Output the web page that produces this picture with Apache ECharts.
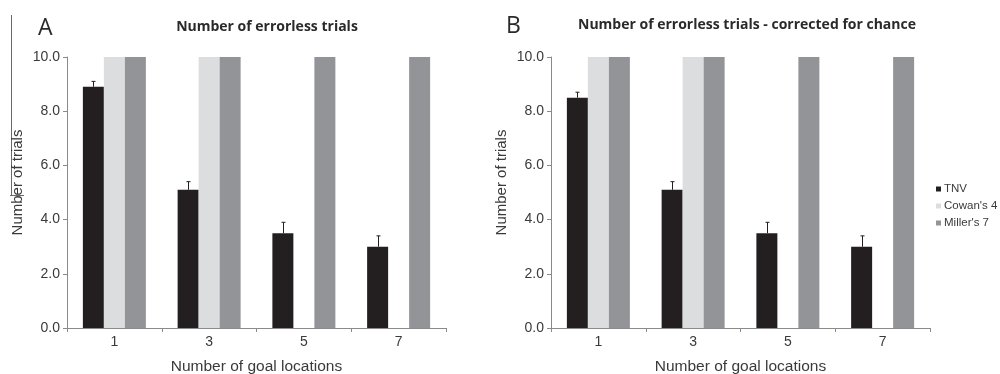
<!DOCTYPE html>
<html>
<head>
<meta charset="utf-8">
<script src="https://cdn.jsdelivr.net/npm/echarts@6/dist/echarts.min.js"></script>
<style>
  html, body { margin: 0; padding: 0; background: #fff; }
  #chart { width: 1000px; height: 374px; }
</style>
</head>
<body>
<div id="chart"></div>
<script>
// Goal-location counts on the x axis
const goalLocations = ['1', '3', '5', '7'];

// Panel A: errorless trials (mean and SEM)
const tnvA = [8.9, 5.1, 3.5, 3.0];
const tnvErrA = [0.2, 0.3, 0.4, 0.4];

// Panel B: errorless trials corrected for chance (mean and SEM)
const tnvB = [8.5, 5.1, 3.5, 3.0];
const tnvErrB = [0.2, 0.3, 0.4, 0.4];

// Model predictions (same in both panels)
const cowan4 = [10, 10, null, null];
const miller7 = [10, 10, 10, 10];

const yTicks = { min: 0, max: 10, interval: 2 };

const COLORS = { tnv: '#231f20', cowan: '#dcdddf', miller: '#929497' };
const BAR_W = 21;
const AXIS_COLOR = '#8a8a8a';
const LABEL_COLOR = '#3a3a3a';
const FONT = "'Liberation Sans', Arial, sans-serif";
const TITLE_FONT = "'Open Sans', sans-serif";

function xAxis(gridIndex) {
  return {
    type: 'category',
    gridIndex,
    data: goalLocations,
    axisLine: { lineStyle: { color: AXIS_COLOR, width: 1 } },
    axisTick: { show: true, length: 4, lineStyle: { color: AXIS_COLOR } },
    axisLabel: { color: LABEL_COLOR, fontSize: 14, fontFamily: FONT, margin: 7 },
    name: 'Number of goal locations',
    nameLocation: 'middle',
    nameGap: 31,
    nameTextStyle: { color: LABEL_COLOR, fontSize: 15.5, fontFamily: FONT }
  };
}

function yAxis(gridIndex) {
  return {
    type: 'value',
    gridIndex,
    min: yTicks.min,
    max: yTicks.max,
    interval: yTicks.interval,
    splitLine: { show: false },
    axisLine: { show: true, lineStyle: { color: AXIS_COLOR, width: 1 } },
    axisTick: { show: true, length: 4, lineStyle: { color: AXIS_COLOR } },
    axisLabel: {
      color: LABEL_COLOR, fontSize: 14, fontFamily: FONT, margin: 7,
      formatter: v => v.toFixed(1)
    },
    name: 'Number of trials',
    nameLocation: 'middle',
    nameGap: 42,
    nameTextStyle: { color: LABEL_COLOR, fontSize: 15, fontFamily: FONT, padding: [0, 0, 0, 20] }
  };
}

// Upward-only error bars centred on the TNV bar (left bar of each group)
function errorSeries(idx, means, errs) {
  return {
    type: 'custom',
    xAxisIndex: idx,
    yAxisIndex: idx,
    z: 5,
    silent: true,
    data: means.map((m, i) => [i, m, m + errs[i]]),
    renderItem(params, api) {
      const base = api.coord([api.value(0), api.value(1)]);
      const top = api.coord([api.value(0), api.value(2)]);
      const x = Math.round(base[0] - BAR_W) + 0.5;
      const cap = 2;
      return {
        type: 'group',
        children: [
          { type: 'line', shape: { x1: x, y1: base[1], x2: x, y2: top[1] },
            style: { stroke: '#231f20', lineWidth: 1 } },
          { type: 'line', shape: { x1: x - cap, y1: top[1], x2: x + cap, y2: top[1] },
            style: { stroke: '#231f20', lineWidth: 1 } }
        ]
      };
    }
  };
}

function barSeries(idx, tnv) {
  return [
    { name: 'TNV', type: 'bar', xAxisIndex: idx, yAxisIndex: idx, data: tnv,
      barWidth: BAR_W, barGap: '0%', itemStyle: { color: COLORS.tnv } },
    { name: "Cowan's 4", type: 'bar', xAxisIndex: idx, yAxisIndex: idx, data: cowan4,
      barWidth: BAR_W, barGap: '0%', itemStyle: { color: COLORS.cowan } },
    { name: "Miller's 7", type: 'bar', xAxisIndex: idx, yAxisIndex: idx, data: miller7,
      barWidth: BAR_W, barGap: '0%', itemStyle: { color: COLORS.miller } }
  ];
}

const chart = echarts.init(document.getElementById('chart'), null, { renderer: 'canvas' });

chart.setOption({
  animation: false,
  backgroundColor: '#ffffff',
  title: [
    { text: 'Number of errorless trials', left: 262, top: 15, textAlign: 'center',
      textStyle: { fontFamily: TITLE_FONT, fontWeight: 'bold', fontSize: 14, color: '#2a2a2a' } },
    { text: 'Number of errorless trials - corrected for chance', left: 742, top: 13, textAlign: 'center',
      textStyle: { fontFamily: TITLE_FONT, fontWeight: 'bold', fontSize: 14, color: '#2a2a2a' } },
    { text: 'A', left: 33, top: 12,
      textStyle: { fontFamily: TITLE_FONT, fontWeight: 'normal', fontSize: 23, color: '#2a2a2a' } },
    { text: 'B', left: 501, top: 10,
      textStyle: { fontFamily: TITLE_FONT, fontWeight: 'normal', fontSize: 23, color: '#2a2a2a' } }
  ],
  legend: {
    data: ['TNV', "Cowan's 4", "Miller's 7"],
    orient: 'vertical',
    left: 931,
    top: 178,
    icon: 'rect',
    itemWidth: 5,
    itemHeight: 5,
    itemGap: 5,
    textStyle: { fontFamily: FONT, fontSize: 11.5, color: LABEL_COLOR, lineHeight: 12, padding: [0, 0, 0, -2] }
  },
  grid: [
    { left: 67, right: 554, top: 57, bottom: 46, containLabel: false, outerBoundsMode: 'none' },
    { left: 551, right: 70, top: 57, bottom: 46, containLabel: false, outerBoundsMode: 'none' }
  ],
  xAxis: [xAxis(0), xAxis(1)],
  yAxis: [yAxis(0), yAxis(1)],
  graphic: [
    { type: 'line', shape: { x1: 11.5, y1: 15, x2: 11.5, y2: 195 },
      style: { stroke: '#6a6a6a', lineWidth: 1 } },
    { type: 'line', shape: { x1: 10, y1: 195.5, x2: 24, y2: 195.5 },
      style: { stroke: '#6a6a6a', lineWidth: 1 } }
  ],
  series: [
    ...barSeries(0, tnvA),
    ...barSeries(1, tnvB),
    errorSeries(0, tnvA, tnvErrA),
    errorSeries(1, tnvB, tnvErrB)
  ]
});
</script>
</body>
</html>
